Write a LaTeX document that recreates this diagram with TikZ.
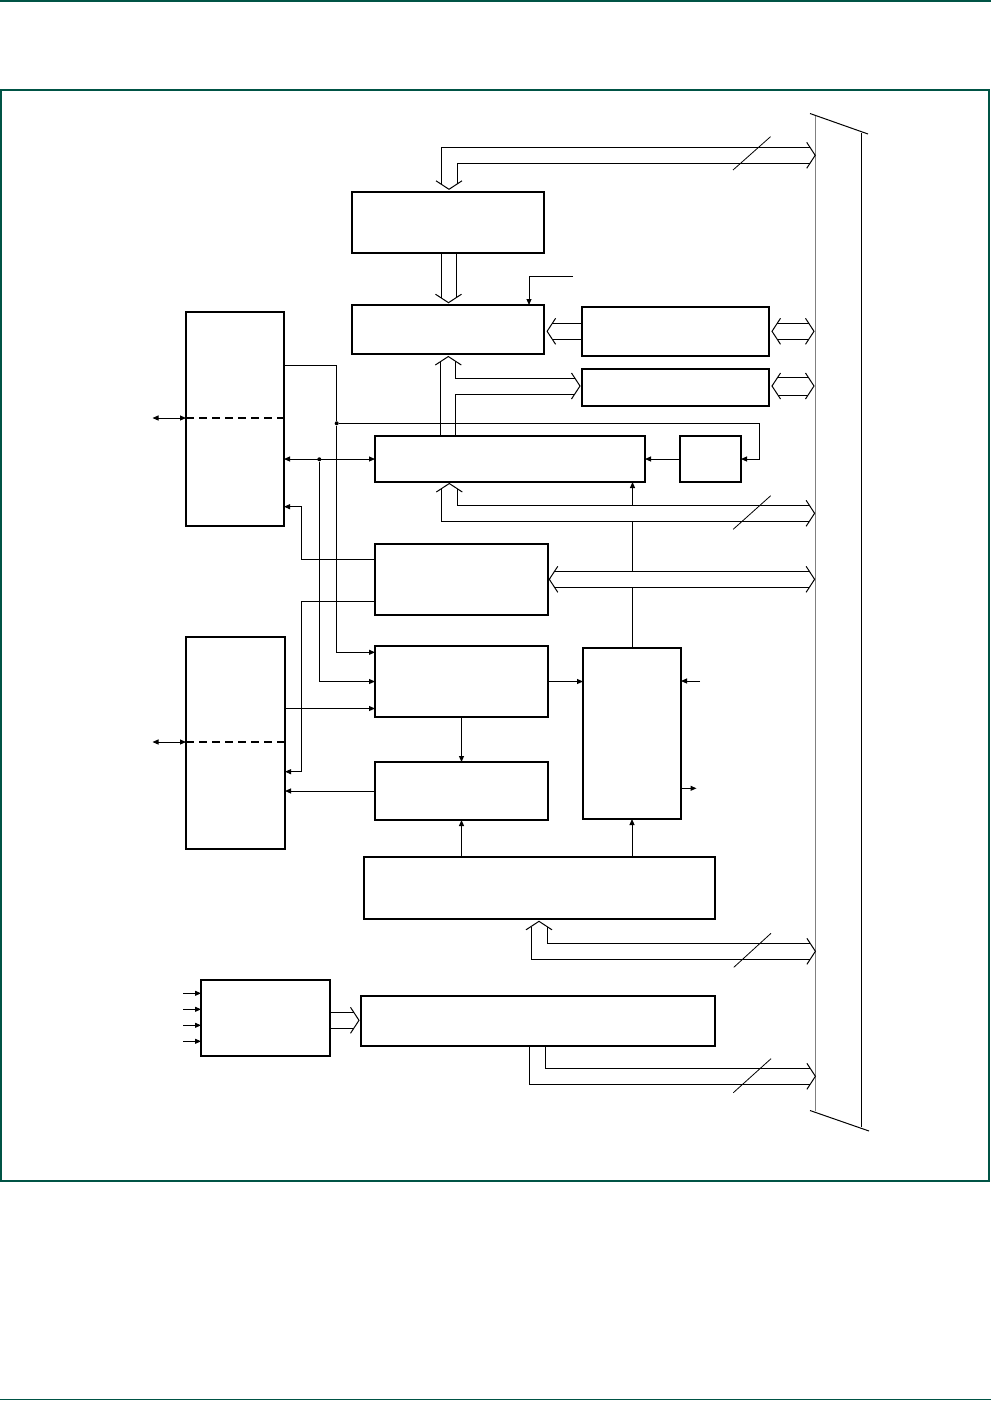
\documentclass[tikz,border=0pt]{standalone}
\usetikzlibrary{arrows.meta,calc,fit}
\definecolor{FrameClr}{rgb}{0,0.33,0.27}

\begin{document}
\begin{tikzpicture}[x=1pt,y=-1pt,
  blk/.style={draw,line width=1.8pt,inner sep=0pt,outer sep=0pt},
  wire/.style={line width=1pt},
  sig/.style={wire,-{Triangle[length=6pt,width=5pt]}},
  bisig/.style={wire,{Triangle[length=6pt,width=5pt]}-{Triangle[length=6pt,width=5pt]}},
  slash/.style={line width=0.8pt},
  split/.style={line width=1.6pt,dash pattern=on 8pt off 5pt},
  dot/.style={circle,fill,inner sep=0pt,minimum size=4pt},
  chev/.pic={\draw[wire] (-8.5,-13) -- (0,0) -- (-8.5,13);}]
\useasboundingbox (0,0) rectangle (991,1401);

% page rules and frame
\draw[FrameClr,line width=1.8pt] (0,1) -- (991,1);
\draw[FrameClr,line width=1.8pt] (0,1399.5) -- (991,1399.5);
\draw[FrameClr,line width=1.2pt] (1,90) rectangle (989,1181);

% blocks
\node[blk,fit={(352,192) (544,253)}] (boxA) {};
\node[blk,fit={(352,305) (544,354)}] (boxB) {};
\node[blk,fit={(582,307) (769,356)}] (boxC) {};
\node[blk,fit={(582,369) (769,406)}] (boxD) {};
\node[blk,fit={(375,436) (645,482)}] (boxE) {};
\node[blk,fit={(680,436) (741,482)}] (boxF) {};
\node[blk,fit={(186,312) (284,526)}] (portA) {};
\node[blk,fit={(375,544) (548,615)}] (boxI) {};
\node[blk,fit={(186,637) (285,849)}] (portB) {};
\node[blk,fit={(375,646) (548,717)}] (boxK) {};
\node[blk,fit={(375,762) (548,820)}] (boxL) {};
\node[blk,fit={(583,648) (681,819)}] (boxJ) {};
\node[blk,fit={(364,857) (715,919)}] (boxM) {};
\node[blk,fit={(201,980) (330,1056)}] (boxN) {};
\node[blk,fit={(361,996) (715,1046)}] (boxO) {};

% system bus
\draw[line width=1.1pt,black!50] (815.5,115) -- (815.5,1111);
\draw[wire] (861.5,133) -- (861.5,1127);
\draw[wire] (810,113.5) -- (868,134);
\draw[wire] (810,1110.5) -- (869,1131);

% bus into boxA
\draw[wire] (441,184) |- (810,147.3);
\draw[wire] (457,184) |- (810,163.3);
\pic[rotate=-90] at (449,189.3) {chev};
\pic at (815.2,155.3) {chev};
\draw[slash] (733,170) -- (770.5,136.7);

% boxA to boxB
\draw[wire] (441,0 |- boxA.south) -- (441,297.8);
\draw[wire] (456,0 |- boxA.south) -- (456,297.8);
\pic[rotate=-90] at (448.5,302.7) {chev};
\coordinate (ctl) at (573,276);
\draw[sig] (ctl) -| (529,0 |- boxB.north);

% boxC, boxD
\draw[wire] (boxC.west |- 0,323.3) -- (552.3,323.3);
\draw[wire] (boxC.west |- 0,339.3) -- (552.3,339.3);
\pic[rotate=180] at (547.1,331.3) {chev};
\draw[wire] (777.2,323.3) -- (808.8,323.3);
\draw[wire] (777.2,339.3) -- (808.8,339.3);
\pic[rotate=180] at (772,331.3) {chev};
\pic at (814,331.3) {chev};
\draw[wire] (777.9,377) -- (808.1,377);
\draw[wire] (777.9,395) -- (808.1,395);
\pic[rotate=180] at (772,386) {chev};
\pic at (814,386) {chev};

% boxE up to boxB and boxD
\pic[rotate=90] at (448.3,356.5) {chev};
\draw[wire] (440.8,361.4) -- (440.8,0 |- boxE.north);
\draw[wire] (455.8,361.4) |- (574.8,378);
\draw[wire] (455.8,0 |- boxE.north) |- (574.8,394);
\pic at (580,386) {chev};

% control lines
\node[dot] (j1) at (336.7,423.3) {};
\node[dot] (j2) at (319.3,459.3) {};
\draw[wire] (portA.east |- 0,365.3) -| (j1);
\draw[sig] (j1) |- (boxK.west |- 0,652.3);
\draw[sig] (j1) -- (759.3,423.3) |- (boxF.east);
\draw[sig] (boxF.west) -- (boxE.east);
\draw[bisig] (portA.east |- boxE.west) -- (boxE.west);
\draw[sig] (j2) |- (boxK.west);

% boxE bottom bus
\pic[rotate=90] at (449.3,483.5) {chev};
\draw[wire] (441.5,488.6) |- (809.4,521.3);
\draw[wire] (457,488.6) |- (809.4,505.3);
\pic at (814.6,513.3) {chev};
\draw[slash] (733.2,529.3) -- (770.7,495.7);
\draw[sig] (632.5,505.3) -- (632.5,0 |- boxE.south);
\draw[wire] (632.5,521.3) -- (632.5,571.3);
\draw[wire] (632.5,587.3) -- (632.5,0 |- boxJ.north);

% boxI bus
\draw[wire] (554.5,571.3) -- (809.4,571.3);
\draw[wire] (554.5,587.3) -- (809.4,587.3);
\pic[rotate=180] at (549.3,579.3) {chev};
\pic at (814.6,579.3) {chev};
\draw[sig] (boxI.west |- 0,559.3) -| (301.4,506.7) -- (portA.east |- 0,506.7);
\draw[sig] (boxI.west |- 0,601.7) -| (301.4,771.7) -- (portB.east |- 0,771.7);

% lower blocks
\draw[sig] (portB.east |- 0,708.5) -- (boxK.west |- 0,708.5);
\draw[sig] (boxK.east) -- (boxJ.west |- boxK.east);
\coordinate (jin) at (700,681);
\coordinate (jout) at (696.5,788.3);
\draw[sig] (jin) -- (boxJ.east |- jin);
\draw[sig] (boxJ.east |- jout) -- (jout);
\draw[sig] (boxK.south) -- (boxL.north);
\draw[sig] (boxL.west) -- (portB.east |- boxL.west);
\draw[sig] (boxL.south |- boxM.north) -- (boxL.south);
\draw[sig] (boxJ.south |- boxM.north) -- (boxJ.south);

% boxM bus
\pic[rotate=90] at (539,921.3) {chev};
\draw[wire] (531.3,926.5) |- (810,959.3);
\draw[wire] (547.4,926.5) |- (810,943.3);
\pic at (815.4,951.3) {chev};
\draw[slash] (733.8,967.3) -- (771,933.3);

% boxN and boxO
\foreach \y in {993.3,1009.3,1025.3,1041.3}
  \draw[sig] (183,\y) -- (boxN.west |- 0,\y);
\draw[wire] (boxN.east |- 0,1012.3) -- (353.8,1012.3);
\draw[wire] (boxN.east |- 0,1028.3) -- (353.8,1028.3);
\pic at (359,1020.3) {chev};
\draw[wire] (529.4,0 |- boxO.south) |- (810,1084.3);
\draw[wire] (545,0 |- boxO.south) |- (810,1068.3);
\pic at (815.4,1076.3) {chev};
\draw[slash] (733.3,1092.7) -- (771,1058.7);

% ports
\draw[bisig] (152.5,418) -- (portA.west |- 0,418);
\draw[split] (portA.west |- 0,418) -- (portA.east |- 0,418);
\draw[bisig] (152.5,742) -- (portB.west |- 0,742);
\draw[split] (portB.west |- 0,742) -- (portB.east |- 0,742);

\end{tikzpicture}
\end{document}
